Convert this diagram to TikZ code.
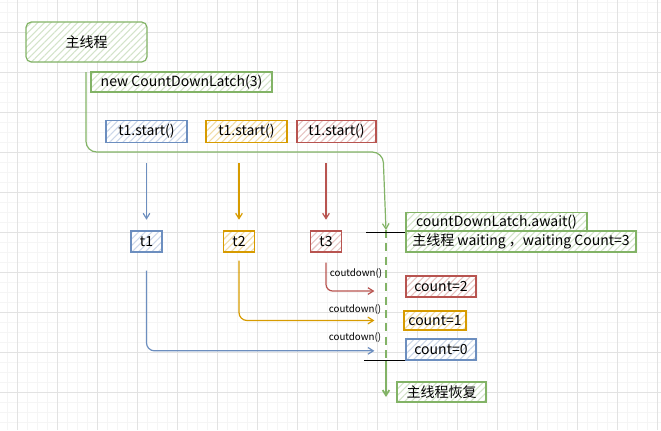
\documentclass[tikz,border=0pt]{standalone}
\usepackage{fontspec}
\setmainfont{Noto Sans CJK SC}
\usepackage{tikz}
\usetikzlibrary{positioning,arrows.meta,patterns.meta,calc}
\definecolor{GreenLine}{HTML}{82B366}
\definecolor{BlueLine}{HTML}{6C8EBF}
\definecolor{GoldLine}{HTML}{D79B00}
\definecolor{RedLine}{HTML}{B85450}
\definecolor{GridMajor}{HTML}{E2E2E2}
\definecolor{GridMinor}{HTML}{F5F5F5}

\begin{document}
\begin{tikzpicture}[x=0.75pt,y=-0.75pt,
    tagbox/.style={draw=#1, line width=0.9pt, inner sep=1pt,
      preaction={fill=white},
      preaction={pattern={Lines[angle=45,distance=3.5pt,line width=0.8pt]}, pattern color=#1!35},
      text=black, font=\fontsize{10.5}{12}\selectfont},
    flow/.style={draw=#1, line width=0.9pt, -{Straight Barb[length=4pt,width=5pt]}},
    cdlabel/.style={font=\fontsize{7.3}{8}\selectfont, inner sep=0pt, text=black}]
  \useasboundingbox (0,0) rectangle (661,430);
  % grid paper
  \foreach \gx in {7,17,...,657} \draw[GridMinor, line width=0.4pt] (\gx,0) -- (\gx,430);
  \foreach \gy in {2,12,...,422} \draw[GridMinor, line width=0.4pt] (0,\gy) -- (661,\gy);
  \foreach \gx in {17,57,...,657} \draw[GridMajor, line width=0.6pt] (\gx,0) -- (\gx,430);
  \foreach \gy in {32,72,...,392} \draw[GridMajor, line width=0.6pt] (0,\gy) -- (661,\gy);

  % main thread
  \node[tagbox=GreenLine, rounded corners=4pt, minimum width=90.75pt, minimum height=30pt] (main) at (86.5,42) {主线程};
  \node[tagbox=GreenLine, minimum width=135.75pt, minimum height=15pt] (latch) at (181.5,82) {new CountDownLatch(3)};
  \node[tagbox=BlueLine, minimum width=60.75pt, minimum height=16.5pt] (s1) at (146.5,131.5) {t1.start()};
  \node[tagbox=GoldLine, minimum width=60.75pt, minimum height=16.5pt] (s2) at (246.5,131.5) {t1.start()};
  \node[tagbox=RedLine, minimum width=59.25pt, minimum height=16.5pt] (s3) at (336.5,131.5) {t1.start()};

  % threads
  \node[tagbox=BlueLine, minimum width=23.25pt, minimum height=15.75pt] (t1) at (146.5,241.5) {t1};
  \node[tagbox=GoldLine, minimum width=23.25pt, minimum height=15.75pt] (t2) at (239,241.5) {t2};
  \node[tagbox=RedLine, minimum width=23.25pt, minimum height=15.75pt] (t3) at (326,241.5) {t3};

  % latch state
  \node[tagbox=GreenLine, minimum width=135.75pt, minimum height=14.25pt] (await) at (496.5,222) {countDownLatch.await()};
  \node[tagbox=GreenLine, minimum width=172.5pt, minimum height=15.75pt] (waiting) at (521,241.5) {主线程 waiting\ ，waiting Count=3};
  \node[tagbox=RedLine, minimum width=52.5pt, minimum height=15.75pt] (c2) at (441,286.5) {count=2};
  \node[tagbox=GoldLine, minimum width=46.5pt, minimum height=14.25pt] (c1) at (435,320.5) {count=1};
  \node[tagbox=BlueLine, minimum width=52.5pt, minimum height=15.75pt] (c0) at (441,349.5) {count=0};
  \node[tagbox=GreenLine, minimum width=66.75pt, minimum height=15pt] (resume) at (441.5,392) {主线程恢复};

  \coordinate (mainstart) at (86,72);
  \coordinate (mainwait) at (386,230);
  \coordinate (mainfree) at (386,361);
  \coordinate (mainend) at (386,397);

  % main thread line
  \draw[flow=GreenLine, rounded corners=8pt] (mainstart) |- (383,152) -- (mainwait);
  \draw[GreenLine, line width=1.3pt, dash pattern=on 6pt off 4pt] (mainwait) -- (mainfree);
  \draw[flow=GreenLine, line width=1.3pt] (mainfree) -- (mainend);
  \draw[black, line width=0.9pt] (await.south west) -- ++(-39,0);
  \draw[black, line width=0.9pt] (c0.south west) -- ++(-41,0);

  % start arrows
  \draw[flow=BlueLine, shorten <=15pt, shorten >=8pt] (s1.south -| t1) -- (t1.north);
  \draw[flow=GoldLine, shorten <=15pt, shorten >=8pt] (s2.south -| t2) -- (t2.north);
  \draw[flow=RedLine, shorten <=15pt, shorten >=8pt] (s3.south -| t3) -- (t3.north);

  % countdown arrows
  \draw[flow=RedLine, rounded corners=5pt] ([yshift=-7.5pt]t3.south) |- ([xshift=-23.25pt,yshift=-3.4pt]c2.west);
  \draw[flow=GoldLine, rounded corners=6pt] ([yshift=-6pt]t2.south) |- ([xshift=-21.75pt]c1.west);
  \draw[flow=BlueLine, rounded corners=6pt] ([yshift=-13.5pt]t1.south) |- ([xshift=-23.25pt,yshift=-1pt]c0.west);
  \node[cdlabel] (cd2) at (356,273) {coutdown()};
  \node[cdlabel] (cd1) at (355,309) {coutdown()};
  \node[cdlabel] (cd0) at (355,337) {coutdown()};
\end{tikzpicture}
\end{document}
